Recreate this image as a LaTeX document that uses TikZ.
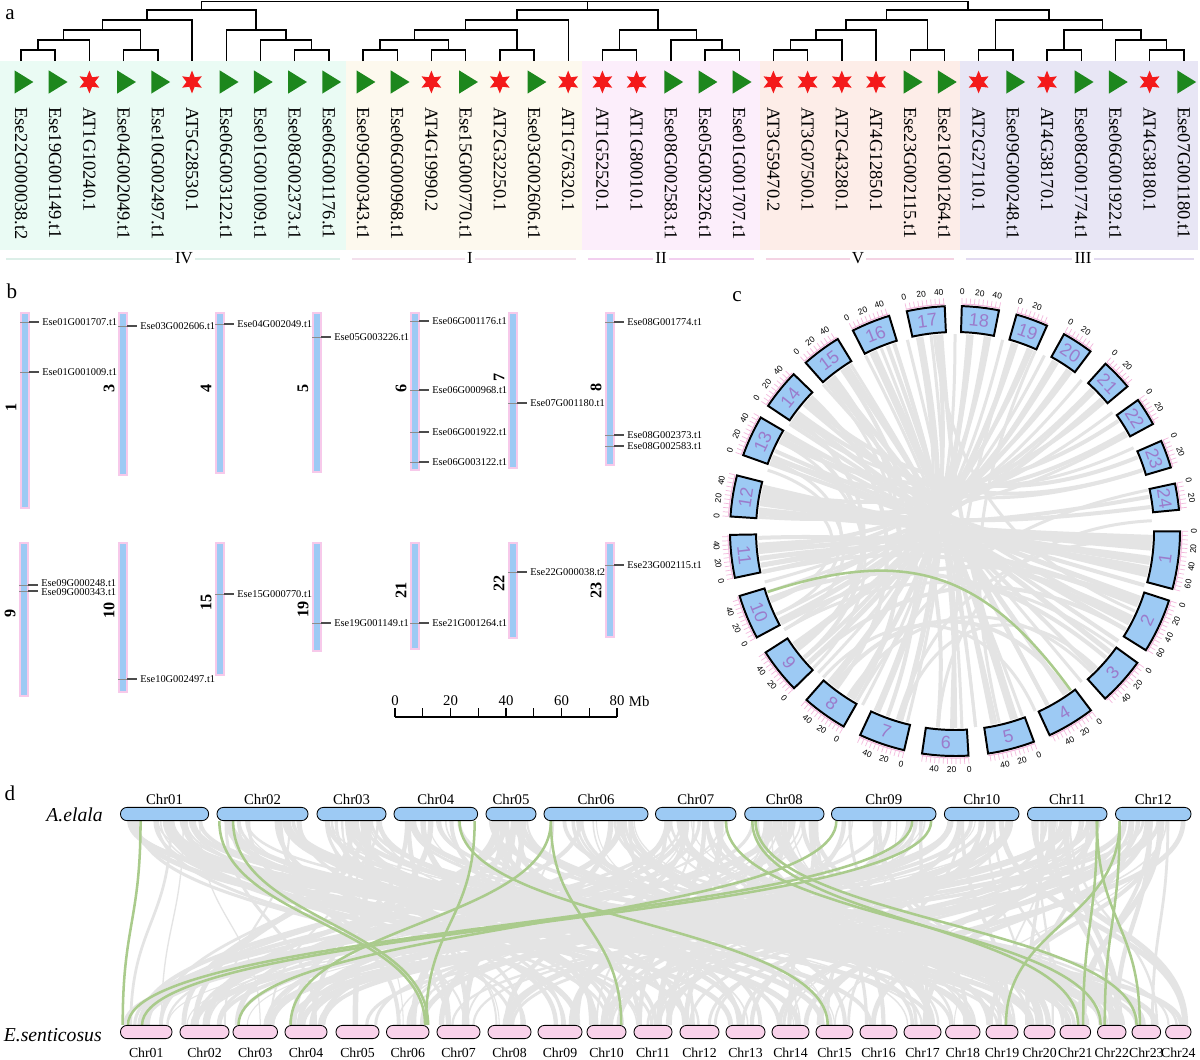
\documentclass[tikz,border=0pt]{standalone}
\usepackage{fontspec}
\setmainfont{Liberation Serif}
\newfontfamily\circfont{Liberation Sans}
\usetikzlibrary{backgrounds,calc,shapes.geometric}
\definecolor{bandiv}{HTML}{EAFBF4}
\definecolor{bandi}{HTML}{FDF9EE}
\definecolor{bandii}{HTML}{FCEEFB}
\definecolor{bandv}{HTML}{FDEDE8}
\definecolor{bandiii}{HTML}{E8E6F5}
\definecolor{gliv}{HTML}{DCEFE8}
\definecolor{gli}{HTML}{F3E0EC}
\definecolor{glii}{HTML}{F2CFEF}
\definecolor{glv}{HTML}{F4D3E3}
\definecolor{gliii}{HTML}{E2DAF0}
\definecolor{esegreen}{HTML}{1D871D}
\definecolor{atred}{HTML}{F41A1A}
\definecolor{chrblue}{HTML}{9DCAF4}
\definecolor{chrpink}{HTML}{F7C9EA}
\definecolor{pillpink}{HTML}{F9D2EA}
\definecolor{linkgrey}{HTML}{E4E4E4}
\definecolor{linkgreen}{HTML}{AACB8C}
\definecolor{circpurple}{HTML}{9B7BCB}
\definecolor{tickpink}{HTML}{F3B9DD}
\tikzset{
  tree/.style={line width=1pt},
  symE/.style={isosceles triangle,isosceles triangle stretches,fill=esegreen,
    minimum height=4.7mm,minimum width=5.8mm,inner sep=0pt},
  symA/.style={star,star points=6,star point ratio=2.1,fill=atred,minimum size=5.7mm,inner sep=0pt},
  leaflabel/.style={rotate=-90,anchor=west,inner sep=0pt,font=\fontsize{13.1}{14}\selectfont},
  grouplabel/.style={fill=white,inner sep=1.5pt,font=\fontsize{12}{13}\selectfont},
  gline/.style={line width=1.4pt},
  panel/.style={font=\fontsize{15}{16}\selectfont,inner sep=0pt},
  chrbar/.style={fill=chrblue,draw=chrpink,line width=0.9pt},
  chrnum/.style={rotate=90,font=\bfseries\fontsize{11.5}{12}\selectfont,inner sep=0pt},
  genetick/.style={draw=black!45,line width=0.45pt},
  geneleader/.style={draw=black!70,line width=0.9pt},
  genelabel/.style={anchor=west,inner sep=0pt,font=\fontsize{7.4}{8}\selectfont},
  scalelabel/.style={inner sep=0pt,font=\fontsize{10.5}{11}\selectfont},
  circbox/.style={fill=chrblue,draw=black,line width=1.4pt},
  circnum/.style={font=\circfont\fontsize{12.8}{13}\selectfont,text=circpurple,inner sep=0pt},
  circtick/.style={draw=tickpink,line width=0.5pt},
  ticklabel/.style={font=\circfont\fontsize{6}{6.5}\selectfont,inner sep=0pt},
  clink/.style={draw=linkgrey},
  glink/.style={draw=linkgreen,line width=1.8pt},
  pilltop/.style={fill=chrblue,draw=black,line width=0.6pt,rounded corners=0.16cm,
    minimum height=0.33cm,inner sep=0pt},
  pillbot/.style={pilltop,fill=pillpink},
  chrname/.style={font=\fontsize{10.5}{11}\selectfont,inner sep=0pt},
  chrnameb/.style={font=\fontsize{9.8}{10}\selectfont,inner sep=0pt},
  species/.style={font=\itshape\fontsize{14}{15}\selectfont,inner sep=0pt,anchor=east}
}
% dendrogram clade: #1 new, #2 #3 children, #4 height
\newcommand\clade[4]{%
  \coordinate (#1) at ($(#2)!.5!(#3)$);
  \coordinate (#1) at (#1 |- 0,#4);
  \draw[tree] (#2) |- (#1) -| (#3);}
% chromosome bar: name, x, top, bottom, label, label y
\newcommand\chrom[6]{%
  \draw[chrbar] (#2-4,#3) rectangle (#2+4,#4);
  \node[chrnum] (#1) at (#2-14,#6) {#5};}
% gene mark: bar x, tick y, text y, name, label
\newcommand\gene[5]{%
  \draw[genetick] (#1-5,#2) -- (#1+4,#2);
  \draw[geneleader] (#1+4,#2) -- (#1+14,#2);
  \node[genelabel] (#4) at (#1+17,#3) {#5};}

\begin{document}
\begin{tikzpicture}[x=0.025cm,y=-0.025cm]
  \useasboundingbox (0,0) rectangle (1200,1059);
  \begin{scope}[on background layer]
    \fill[white] (0,0) rectangle (1200,1059);
  \end{scope}

  % ---- a: tree
  \fill[bandiv] (0,61) rectangle (346,250);
  \fill[bandi] (346,61) rectangle (582,250);
  \fill[bandii] (582,61) rectangle (760,250);
  \fill[bandv] (760,61) rectangle (960,250);
  \fill[bandiii] (960,61) rectangle (1198,250);
  \node[panel] (pa) at (10,15) {a};
  \foreach \ty/\g [count=\i from 0] in {E/Ese22G000038.t2, E/Ese19G001149.t1, A/AT1G10240.1,
      E/Ese04G002049.t1, E/Ese10G002497.t1, A/AT5G28530.1, E/Ese06G003122.t1, E/Ese01G001009.t1,
      E/Ese08G002373.t1, E/Ese06G001176.t1, E/Ese09G000343.t1, E/Ese06G000968.t1, A/AT4G19990.2,
      E/Ese15G000770.t1, A/AT2G32250.1, E/Ese03G002606.t1, A/AT1G76320.1, A/AT1G52520.1,
      A/AT1G80010.1, E/Ese08G002583.t1, E/Ese05G003226.t1, E/Ese01G001707.t1, A/AT3G59470.2,
      A/AT3G07500.1, A/AT2G43280.1, A/AT4G12850.1, E/Ese23G002115.t1, E/Ese21G001264.t1,
      A/AT2G27110.1, E/Ese09G000248.t1, A/AT4G38170.1, E/Ese08G001774.t1, E/Ese06G001922.t1,
      A/AT4G38180.1, E/Ese07G001180.t1}{
    \coordinate (l\i) at ({21+34.2*\i},61);
    \node[sym\ty] (s\i) at ({21+34.2*\i},82) {};
    \node[leaflabel] (lab\i) at ({21+34.2*\i},107) {\g};
  }
  % IV
  \clade{n1}{l0}{l1}{50}
  \clade{n2}{n1}{l2}{40}
  \clade{n3}{l3}{l4}{50}
  \clade{n4}{n2}{n3}{30}
  \clade{n5}{n4}{l5}{20}
  \clade{n6}{l8}{l9}{50}
  \clade{n7}{l7}{n6}{40}
  \clade{n8}{l6}{n7}{30}
  \clade{n9}{n5}{n8}{10}
  % I and II
  \clade{m1}{l10}{l11}{50}
  \clade{m2}{l12}{l13}{50}
  \clade{m3}{m1}{m2}{40}
  \clade{m4}{l14}{l15}{50}
  \clade{m5}{m3}{m4}{30}
  \clade{m6}{m5}{l16}{20}
  \clade{k1}{l17}{l18}{50}
  \clade{k2}{l20}{l21}{50}
  \clade{k3}{l19}{k2}{40}
  \clade{k4}{k1}{k3}{30}
  \clade{m7}{m6}{k4}{10}
  % V and III
  \clade{v1}{l22}{l23}{50}
  \clade{v2}{v1}{l24}{40}
  \clade{v3}{v2}{l25}{30}
  \clade{v4}{l26}{l27}{50}
  \clade{v5}{v3}{v4}{20}
  \clade{u1}{l28}{l29}{50}
  \clade{u2}{l30}{l31}{50}
  \clade{u3}{l33}{l34}{50}
  \clade{u4}{l32}{u3}{40}
  \clade{u5}{u2}{u4}{30}
  \clade{u6}{u1}{u5}{20}
  \clade{w1}{v5}{u6}{10}
  \clade{root}{n9}{w1}{1.5}
  \draw[tree] (m7) -- (m7 |- root);
  % group names
  \draw[gline,draw=gliv] (6,259) -- (340,259);
  \draw[gline,draw=gli] (352,259) -- (576,259);
  \draw[gline,draw=glii] (588,259) -- (754,259);
  \draw[gline,draw=glv] (766,259) -- (954,259);
  \draw[gline,draw=gliii] (966,259) -- (1194,259);
  \node[grouplabel] (gIV) at (184,258) {IV};
  \node[grouplabel] (gI) at (470,258) {I};
  \node[grouplabel] (gII) at (661,258) {II};
  \node[grouplabel] (gV) at (858,258) {V};
  \node[grouplabel] (gIII) at (1083,258) {III};

  % ---- b: chromosome locations
  \node[panel] (pb) at (12,291) {b};
  \chrom{k1}{25}{313}{508}{1}{407}
  \gene{25}{322}{322}{ga}{Ese01G001707.t1}
  \gene{25}{372}{372}{gb}{Ese01G001009.t1}
  \chrom{k3}{123}{313}{475}{3}{388}
  \gene{123}{326}{326}{gc}{Ese03G002606.t1}
  \chrom{k4}{220}{313}{473}{4}{388}
  \gene{220}{324}{324}{gd}{Ese04G002049.t1}
  \chrom{k5}{317}{313}{472}{5}{388}
  \gene{317}{337}{337}{ge}{Ese05G003226.t1}
  \chrom{k6}{415}{313}{470}{6}{388}
  \gene{415}{321}{321}{gf}{Ese06G001176.t1}
  \gene{415}{390}{390}{gg}{Ese06G000968.t1}
  \gene{415}{432}{432}{gh}{Ese06G001922.t1}
  \gene{415}{462}{462}{gi}{Ese06G003122.t1}
  \chrom{k7}{513}{313}{468}{7}{377}
  \gene{513}{403}{403}{gj}{Ese07G001180.t1}
  \chrom{k8}{610}{313}{465}{8}{387}
  \gene{610}{322}{322}{gk}{Ese08G001774.t1}
  \gene{610}{435}{435}{gl}{Ese08G002373.t1}
  \gene{610}{446}{446}{gm}{Ese08G002583.t1}
  \chrom{k9}{24}{543}{696}{9}{613}
  \gene{24}{585}{583}{gn}{Ese09G000248.t1}
  \gene{24}{591}{592}{go}{Ese09G000343.t1}
  \chrom{k10}{123}{543}{692}{10}{610}
  \gene{123}{679}{679}{gp}{Ese10G002497.t1}
  \chrom{k15}{220}{543}{675}{15}{602}
  \gene{220}{594}{594}{gq}{Ese15G000770.t1}
  \chrom{k19}{317}{543}{651}{19}{609}
  \gene{317}{623}{623}{gr}{Ese19G001149.t1}
  \chrom{k21}{415}{543}{649}{21}{590}
  \gene{415}{623}{623}{gs}{Ese21G001264.t1}
  \chrom{k22}{513}{543}{638}{22}{583}
  \gene{513}{572}{572}{gt}{Ese22G000038.t2}
  \chrom{k23}{610}{543}{637}{23}{590}
  \gene{610}{565}{565}{gu}{Ese23G002115.t1}
  % scale bar
  \draw[line width=1pt] (395,717) -- (617,717);
  \foreach \i in {0,...,8}
    \draw[line width=0.9pt] ({395+27.75*\i},717) -- ++(0,-9);
  \foreach \v [count=\j from 0] in {0,20,40,60,80}
    \node[scalelabel] (sc\j) at ({395+55.5*\j},701) {\v};
  \node[scalelabel,anchor=west] (mb) at ($(sc4.east)+(4,0)$) {Mb};

  % ---- c: circos
  \node[panel] (pc) at (737,297) {c};
  \begin{scope}[shift={(955,531)},x=0.025cm,y=0.025cm]
    \foreach \ua/\ub/\uw in {174/-2/6,172/-5/5,169/-9/6,167/-12/4,175/10/4,-170/-11/5,-176/-4/4,
        -172/-22/5,-178/-28/4,158/-20/5,152/-30/4,156/-13/4,151/18/3,144/-38/5,138/-45/4,140/-27/4,
        129/-56/5,124/-62/4,123/-72/3,115/-73/5,110/-79/4,108/-90/4,100/-106/5,95/-113/4,96/-24/3,
        86/-122/5,81/-129/4,80/-140/4,72/-138/5,68/-145/4,67/-155/3,59/-153/5,55/-160/4,54/-170/4,
        46/-175/4,42/-168/4,41/168/4,45/-162/3,34/153/4,30/158/4,29/172/3,22/139/4,18/143/4,7/170/4,
        -30/-138/4,-21/-152/4,-40/-160/4,-46/-123/3,-44/-106/3,-55/-128/4,-62/114/4,-78/117/3,
        -72/94/4,-70/122/3,-95/130/4,-88/108/3,-110/125/4,-114/101/3,-127/137/4,-130/85/3,
        -121/128/3,-143/145/4,-140/150/4,-159/167/3,-155/159/3,-3/-107/3,66/-77/3,60/-144/3,
        -91/73/3,3/-95/3,12/-120/3,-12/150/4,171/-3/5,-174/-8/5,160/-16/4,147/-34/4,-168/-26/4,
        132/-50/3,104/-84/3,90/-118/3,76/-134/3,63/-150/3,50/-165/3,37/176/3,25/146/3,-36/-150/3,
        -66/-132/3,-84/112/3,-104/97/3,-120/131/3,-136/153/3,-150/162/3}{
      \pgfmathsetmacro\dd{mod(\ua-\ub+720,360)}
      \pgfmathsetmacro\rc{25+100*(abs(\dd-180)/180)}
      \draw[clink,line width=\uw*0.025cm] (\ua:197) .. controls (\ua:\rc) and (\ub:\rc) .. (\ub:197);
    }
    \draw[glink] (-162:197) .. controls (-162:50) and (-54:50) .. (-54:197);
    \foreach \n/\cc/\L in {1/-7.5/70,2/-25/66,3/-42/58,4/-59/58,5/-75.5/57,6/-92.5/56,7/-109/56,
        8/-125.5/55,9/-141.5/55,10/-157.5/54,11/-173.5/52,12/171/50,13/155/50,14/141/49,
        15/126.5/48,16/112/47,17/97.5/46,18/83.5/45,19/70/39,20/57/38,21/44/38,22/32/34,
        23/20/34,24/8.8/32}{
      \pgfmathsetmacro\sa{\cc+0.106*\L}
      \pgfmathsetmacro\ea{\cc-0.106*\L}
      \draw[circbox] (\sa:199) arc[start angle=\sa,end angle=\ea,radius=199]
        -- (\ea:225) arc[start angle=\ea,end angle=\sa,radius=225] -- cycle;
      \draw[tickpink,line width=0.8pt] (\sa:227) arc[start angle=\sa,end angle=\ea,radius=227];
      \foreach \p in {0,5,...,\L}{
        \pgfmathsetmacro\ta{\sa-0.212*\p}
        \draw[circtick] (\ta:227) -- (\ta:233);
      }
      \foreach \p in {0,20,...,\L}{
        \pgfmathsetmacro\ta{\sa-0.212*\p}
        \pgfmathsetmacro\trot{\ta>0 ? \ta-90 : \ta+90}
        \node[ticklabel,rotate=\trot] (tk\n-\p) at (\ta:239) {\p};
      }
      \pgfmathsetmacro\crot{\cc>0 ? \cc-90 : \cc+90}
      \node[circnum,rotate=\crot] (cn\n) at (\cc:212) {\n};
    }
  \end{scope}

  % ---- d: synteny
  \node[panel] (pd) at (10,793) {d};
  \node[species] (spa) at (103,815) {A.elala};
  \node[species] (spe) at (102,1035) {E.senticosus};
  \foreach \n/\xa/\xb/\nm in {1/120.5/208.6/01,2/217/308/02,3/317/386/03,4/394/477.6/04,
      5/486/536/05,6/544/648/06,7/655.5/736/07,8/744.7/824/08,9/831.5/936/09,
      10/944.4/1019/10,11/1027.5/1107/11,12/1115.5/1191/12}{
    \node[pilltop,minimum width={(\xb-\xa)*0.025cm}] (t\n) at ({(\xa+\xb)/2},814) {};
    \node[chrname] (tl\n) at ({(\xa+\xb)/2},799) {Chr\nm};
  }
  \foreach \n/\xa/\xb/\nm in {1/120.5/172/01,2/180/229/02,3/233/277.5/03,4/285/327/04,
      5/336/379/05,6/386.5/429/06,7/437/480/07,8/488/531/08,9/538/582/09,10/587/626/10,
      11/634/672/11,12/680/719/12,13/726/765/13,14/772/809/14,15/816/853/15,16/860/897/16,
      17/904/941/17,18/945.6/980/18,19/986/1018/19,20/1024/1055/20,21/1060/1090.6/21,
      22/1097.5/1126/22,23/1132/1160.6/23,24/1165.6/1191/24}{
    \node[pillbot,minimum width={(\xb-\xa)*0.025cm}] (b\n) at ({(\xa+\xb)/2},1032) {};
    \node[chrnameb] (bl\n) at ({(\xa+\xb)/2},1053) {Chr\nm};
  }
  \begin{scope}[on background layer]
    \pgfmathsetseed{42}
    \foreach \k in {1,...,260}{
      \pgfmathtruncatemacro\ta{random(1,12)}
      \pgfmathtruncatemacro\tb{random(1,24)}
      \pgfmathsetmacro\fa{0.08+0.84*rnd}
      \pgfmathsetmacro\fb{0.08+0.84*rnd}
      \pgfmathsetmacro\lw{1+4.5*rnd}
      \draw[clink,line width=\lw*0.025cm] ($(t\ta.south west)!\fa!(t\ta.south east)$)
        .. controls +(0,100) and +(0,-100) .. ($(b\tb.north west)!\fb!(b\tb.north east)$);
    }
    \foreach \ta/\fa/\tb/\fb in {1/0.23/1/0.05,2/0.03/6/0.90,2/0.18/6/0.97,4/0.96/6/0.92,
        4/0.78/15/0.32,6/0.07/4/0.14,6/0.07/10/0.87,9/0.05/3/0.13,9/0.77/1/0.15,9/0.95/1/0.42,
        7/0.87/22/0.12,8/0.10/21/0.59,8/0.14/23/0.17,11/0.87/21/0.75,11/0.87/23/0.28,
        12/0.06/19/0.62,12/0.06/22/0.26}
      \draw[glink] ($(t\ta.south west)!\fa!(t\ta.south east)$)
        .. controls +(0,100) and +(0,-100) .. ($(b\tb.north west)!\fb!(b\tb.north east)$);
  \end{scope}
\end{tikzpicture}
\end{document}
